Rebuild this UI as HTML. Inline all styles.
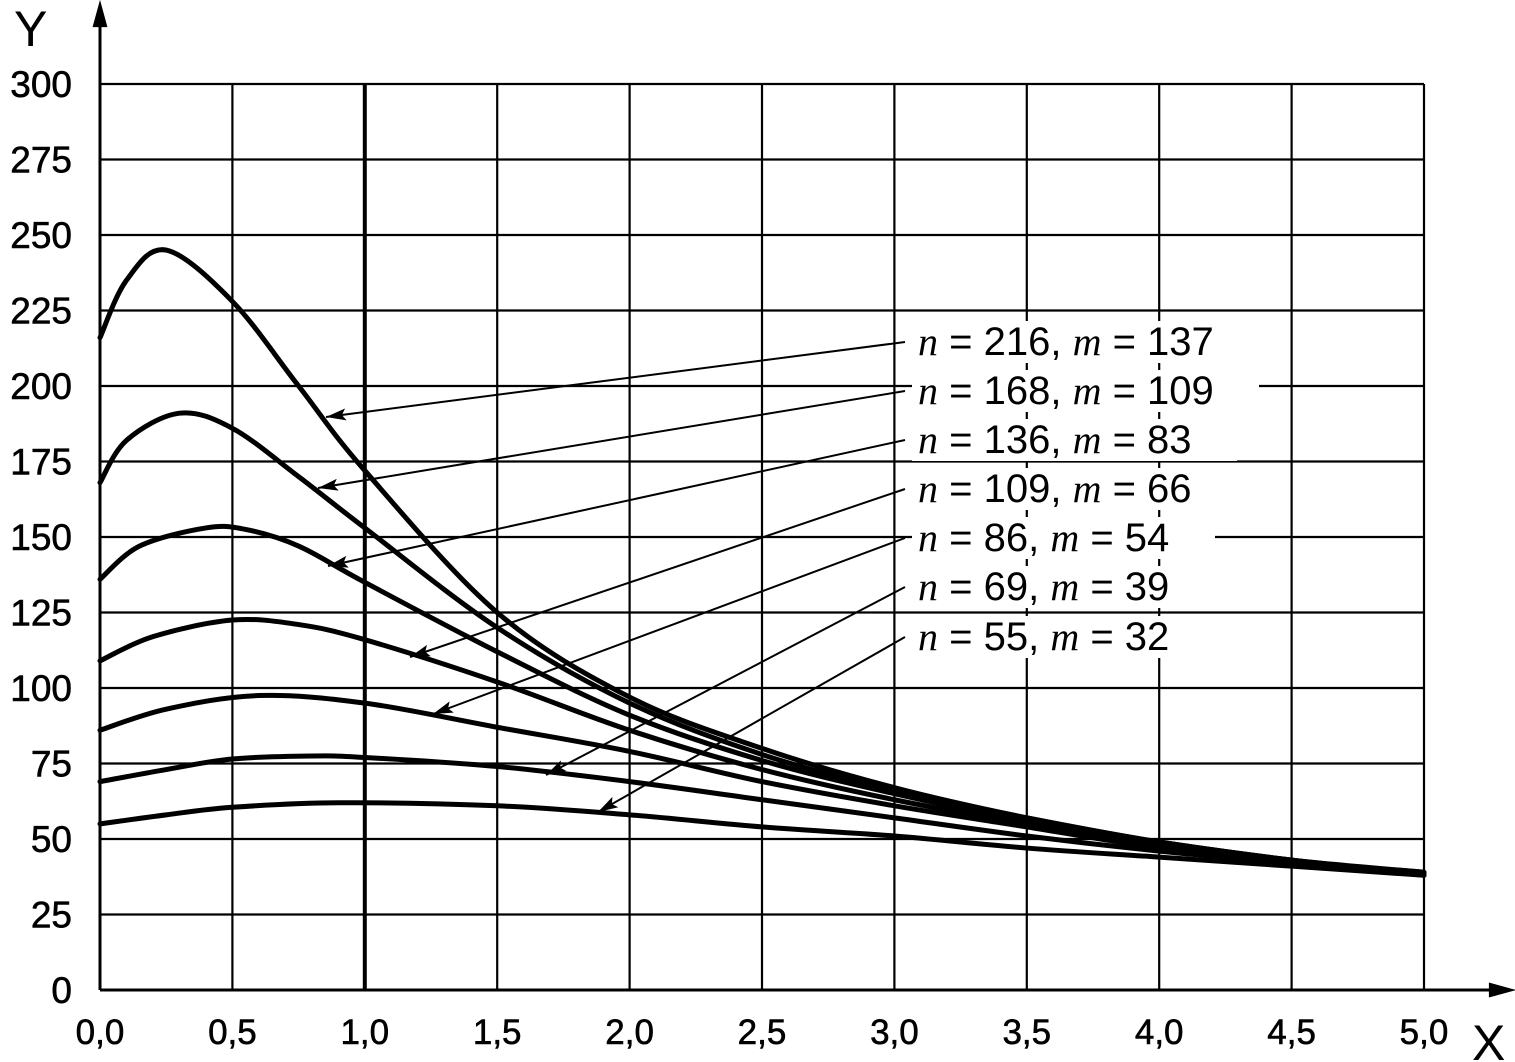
<!DOCTYPE html>
<html><head><meta charset="utf-8"><style>
html,body{margin:0;padding:0;background:#fff;}
svg{display:block;}
text{font-family:"Liberation Sans",sans-serif;fill:#000;}
</style></head><body>
<svg id="s" width="1515" height="1062" viewBox="0 0 1515 1062" xmlns="http://www.w3.org/2000/svg">
<defs><marker id="ar" markerWidth="20" markerHeight="12" refX="20" refY="6" orient="auto" markerUnits="userSpaceOnUse"><path d="M20,6 L0,0 L4,6 L0,12 z" fill="#000"/></marker></defs>
<g id="grid" stroke="#000" stroke-width="2.2"></g>
<g id="curves" fill="none" stroke="#000" stroke-width="5" stroke-linecap="round"></g>
<g id="labels"></g>
<text x="14" y="46" font-size="50">Y</text>
<text x="1472" y="1060" font-size="50">X</text>
</svg>
<script>
var X0=100,SX=264.8,Y0=990,SY=906/300;
function px(x){return X0+x*SX;} function py(y){return Y0-y*SY;}
var ns="http://www.w3.org/2000/svg";
function el(t,a,p){var e=document.createElementNS(ns,t);for(var k in a)e.setAttribute(k,a[k]);p.appendChild(e);return e;}
var g=document.getElementById('grid');
for(var i=1;i<=10;i++){var x=px(i*0.5);el('line',{x1:x,y1:84,x2:x,y2:990,'stroke-width':i==2?4:2.2},g);}
for(var j=1;j<=12;j++){var y=py(j*25);el('line',{x1:100,y1:y,x2:1424,y2:y},g);}
el('line',{x1:100,y1:990,x2:1500,y2:990,'stroke-width':3},g);
el('line',{x1:100,y1:990,x2:100,y2:18,'stroke-width':3},g);
el('path',{d:'M1512,990 L1490,984 L1490,996 z',fill:'#000'},g);
el('path',{d:'M100,4 L94,26 L106,26 z',fill:'#000'},g);
var s=document.getElementById('s');
for(var j=0;j<=12;j++){var t=el('text',{x:72,y:py(j*25)+13,'font-size':37,'text-anchor':'end',stroke:'#000','stroke-width':0.6},s);t.textContent=j*25;}
for(var i=0;i<=10;i++){var t=el('text',{x:px(i*0.5),y:1044,'font-size':35,'text-anchor':'middle',stroke:'#000','stroke-width':0.6},s);t.textContent=(i*0.5).toFixed(1).replace('.',',');}
var data=[
[[0,216],[0.1,235],[0.25,245],[0.5,228],[0.75,200],[1,172],[1.5,125],[2,97],[2.5,80],[3,67],[3.5,57],[4,49],[4.5,43],[5,38]],
[[0,168],[0.1,182],[0.3,191],[0.5,186],[0.75,170],[1,153],[1.5,120],[2,95],[2.5,78],[3,66],[3.5,57],[4,49],[4.5,43],[5,38.5]],
[[0,136],[0.15,147],[0.4,153],[0.55,152.5],[0.75,147],[1,135],[1.5,112],[2,91],[2.5,76],[3,65],[3.5,56],[4,49],[4.5,43],[5,39]],
[[0,109],[0.2,117],[0.5,122.5],[0.75,121],[1,116],[1.5,102],[2,86],[2.5,73],[3,63],[3.5,55],[4,48],[4.5,42.5],[5,39]],
[[0,86],[0.25,93],[0.6,97.5],[1,95],[1.5,87],[2,79],[2.5,69],[3,61],[3.5,54],[4,47],[4.5,42],[5,38.5]],
[[0,69],[0.25,73],[0.5,76.5],[0.8,77.5],[1,77],[1.5,74],[2,69],[2.5,63],[3,57],[3.5,51],[4,46],[4.5,42],[5,38]],
[[0,55],[0.25,58],[0.5,60.5],[0.9,62],[1.5,61],[2,58],[2.5,54],[3,51],[3.5,47],[4,44],[4.5,41],[5,38]]];
var c=document.getElementById('curves');
data.forEach(function(d){var p=d.map(function(q){return [px(q[0]),py(q[1])];});
var s2='M'+p[0][0]+','+p[0][1];
for(var k=0;k<p.length-1;k++){var a=p[k-1]||p[k],b=p[k],cc=p[k+1],dd=p[k+2]||cc;
s2+=' C'+(b[0]+(cc[0]-a[0])/6)+','+(b[1]+(cc[1]-a[1])/6)+' '+(cc[0]-(dd[0]-b[0])/6)+','+(cc[1]-(dd[1]-b[1])/6)+' '+cc[0]+','+cc[1];}
el('path',{d:s2},c);});
var L=document.getElementById('labels');
var labs=[["216","137",355,[326,417]],["168","109",404,[318,488]],["136","83",453,[328,566]],["109","66",502,[410,657]],["86","54",551,[433,714]],["69","39",600,[546,775]],["55","32",650,[598,812]]];
labs.forEach(function(l){
var w=(l[0].length+l[1].length)*22+215;
el('rect',{x:912,y:l[2]-34,width:w,height:42,fill:'#fff'},L);
el('line',{x1:905,y1:l[2]-13,x2:l[3][0],y2:l[3][1],stroke:'#000','stroke-width':2,'marker-end':'url(#ar)'},L);
var t=el('text',{x:918,y:l[2],'font-size':40},L);
t.innerHTML='<tspan font-family="Liberation Serif" font-style="italic">n</tspan> = '+l[0]+', <tspan font-family="Liberation Serif" font-style="italic">m</tspan> = '+l[1];
});
</script>
</body></html>
